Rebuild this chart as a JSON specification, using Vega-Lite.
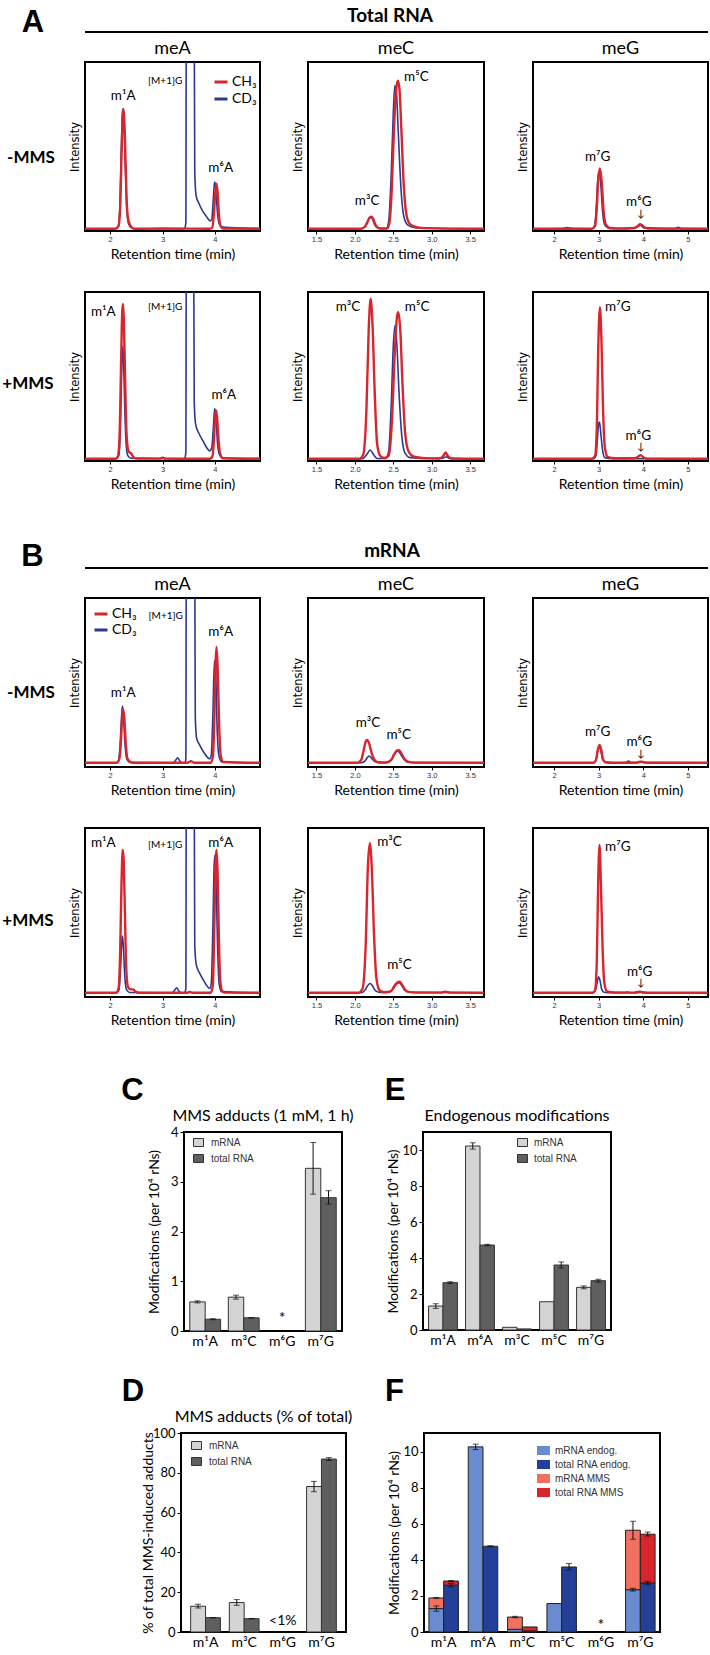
{
"$schema": "https://vega.github.io/schema/vega-lite/v6.json",
"padding": {"left": 0, "top": 0, "right": 0, "bottom": 6},
"background": "white",
"spacing": 0,
"resolve": {"scale": {"color": "independent", "xOffset": "independent"}, "legend": {"color": "independent"}},
"datasets": {
"chrom": [
{"p":"A1meA","s":"CH₃","t":[1.52,2.1,2.16,2.19,2.22,2.24,2.255,2.27,2.295,2.32,2.35,2.4,2.46,3.0,3.9,3.95,3.98,4.005,4.03,4.05,4.075,4.1,4.15,4.86],"i":[0.013,0.013,0.03,0.13,0.48,0.68,0.72,0.66,0.4,0.15,0.06,0.025,0.013,0.015,0.013,0.02,0.1,0.22,0.28,0.23,0.1,0.035,0.015,0.013]},
{"p":"A1meA","s":"CD₃","t":[1.52,2.1,2.16,2.185,2.215,2.235,2.25,2.265,2.29,2.32,2.35,2.4,2.46,3.42,3.445,3.455,3.6,3.615,3.64,3.7,3.76,3.84,3.91,3.94,3.965,3.99,4.0,4.02,4.045,4.08,4.13,4.3,4.86],"i":[0.013,0.013,0.03,0.14,0.5,0.7,0.725,0.66,0.38,0.12,0.045,0.02,0.013,0.013,0.05,1.6,1.6,0.35,0.21,0.16,0.12,0.085,0.06,0.07,0.17,0.28,0.29,0.24,0.12,0.045,0.025,0.02,0.015]},
{"p":"A1meC","s":"CH₃","t":[1.39,2.08,2.13,2.16,2.19,2.21,2.235,2.26,2.29,2.33,2.42,2.45,2.48,2.51,2.54,2.56,2.58,2.605,2.635,2.67,2.71,2.78,2.9,3.68],"i":[0.013,0.013,0.025,0.05,0.078,0.085,0.075,0.045,0.022,0.015,0.015,0.05,0.25,0.62,0.85,0.89,0.84,0.6,0.28,0.1,0.045,0.025,0.017,0.013]},
{"p":"A1meC","s":"CD₃","t":[1.39,2.08,2.13,2.16,2.185,2.205,2.23,2.255,2.29,2.33,2.41,2.44,2.47,2.5,2.52,2.54,2.565,2.6,2.64,2.69,2.78,3.0,3.68],"i":[0.013,0.013,0.025,0.05,0.075,0.08,0.07,0.04,0.02,0.014,0.015,0.06,0.3,0.7,0.86,0.82,0.58,0.25,0.08,0.035,0.02,0.016,0.013]},
{"p":"A1meG","s":"CH₃","t":[1.53,2.85,2.92,2.96,2.99,3.03,3.07,3.11,3.16,3.25,3.5,3.8,3.88,3.93,3.97,4.03,4.15,5.45],"i":[0.013,0.013,0.03,0.14,0.3,0.37,0.29,0.12,0.04,0.018,0.014,0.018,0.03,0.04,0.035,0.02,0.014,0.013]},
{"p":"A1meG","s":"CD₃","t":[1.53,2.2,2.3,2.4,2.85,2.91,2.95,2.98,3.01,3.05,3.09,3.14,3.25,3.8,3.9,3.94,4.0,4.7,4.78,4.86,5.45],"i":[0.013,0.015,0.02,0.014,0.013,0.03,0.15,0.3,0.35,0.27,0.11,0.035,0.015,0.017,0.03,0.035,0.02,0.014,0.022,0.014,0.013]},
{"p":"A2meA","s":"CH₃","t":[1.52,2.1,2.15,2.18,2.21,2.23,2.245,2.26,2.285,2.31,2.34,2.37,2.4,2.44,2.5,2.95,3.0,3.05,3.9,3.95,3.98,4.0,4.02,4.04,4.07,4.1,4.15,4.86],"i":[0.013,0.013,0.03,0.15,0.6,0.88,0.93,0.85,0.5,0.18,0.07,0.05,0.045,0.025,0.015,0.014,0.02,0.014,0.013,0.025,0.12,0.24,0.3,0.26,0.12,0.04,0.016,0.013]},
{"p":"A2meA","s":"CD₃","t":[1.52,2.12,2.17,2.2,2.225,2.24,2.255,2.28,2.31,2.34,2.4,3.42,3.445,3.455,3.59,3.605,3.63,3.7,3.77,3.84,3.9,3.94,3.97,3.995,4.02,4.05,4.09,4.15,4.86],"i":[0.013,0.013,0.04,0.25,0.6,0.68,0.6,0.3,0.08,0.03,0.016,0.013,0.05,1.6,1.6,0.35,0.22,0.16,0.12,0.08,0.06,0.08,0.2,0.31,0.26,0.1,0.035,0.018,0.014]},
{"p":"A2meC","s":"CH₃","t":[1.39,2.06,2.11,2.15,2.18,2.205,2.23,2.26,2.29,2.33,2.38,2.44,2.48,2.52,2.55,2.565,2.59,2.62,2.655,2.7,2.77,2.9,3.1,3.15,3.18,3.21,3.26,3.68],"i":[0.013,0.013,0.04,0.3,0.78,0.96,0.8,0.38,0.1,0.03,0.018,0.03,0.22,0.65,0.86,0.88,0.78,0.45,0.16,0.055,0.025,0.017,0.015,0.03,0.05,0.03,0.015,0.013]},
{"p":"A2meC","s":"CD₃","t":[1.39,2.1,2.15,2.2,2.24,2.29,2.4,2.44,2.47,2.5,2.52,2.545,2.575,2.61,2.65,2.72,3.0,3.15,3.19,3.23,3.68],"i":[0.013,0.013,0.035,0.065,0.04,0.015,0.015,0.06,0.3,0.68,0.8,0.7,0.4,0.15,0.05,0.02,0.015,0.017,0.025,0.015,0.013]},
{"p":"A2meG","s":"CH₃","t":[1.53,2.85,2.92,2.96,2.99,3.03,3.065,3.1,3.14,3.2,3.35,3.8,3.88,3.94,4.0,4.1,5.45],"i":[0.013,0.013,0.03,0.2,0.65,0.91,0.7,0.3,0.08,0.025,0.016,0.016,0.025,0.035,0.022,0.014,0.013]},
{"p":"A2meG","s":"CD₃","t":[1.53,2.88,2.94,2.97,3.0,3.02,3.05,3.09,3.14,3.3,5.45],"i":[0.013,0.013,0.03,0.12,0.22,0.23,0.16,0.06,0.02,0.014,0.013]},
{"p":"B1meA","s":"CH₃","t":[1.52,2.12,2.17,2.2,2.23,2.25,2.27,2.3,2.33,2.38,2.45,3.48,3.54,3.6,3.92,3.96,3.99,4.01,4.03,4.05,4.08,4.11,4.16,4.86],"i":[0.025,0.025,0.04,0.12,0.29,0.34,0.29,0.13,0.05,0.03,0.025,0.025,0.035,0.025,0.025,0.06,0.3,0.6,0.71,0.6,0.25,0.07,0.03,0.025]},
{"p":"B1meA","s":"CD₃","t":[1.52,2.12,2.16,2.19,2.22,2.235,2.255,2.285,2.32,2.38,3.2,3.25,3.29,3.33,3.38,3.43,3.445,3.455,3.61,3.625,3.65,3.71,3.78,3.85,3.9,3.93,3.96,3.99,4.015,4.045,4.08,4.13,4.86],"i":[0.025,0.025,0.04,0.13,0.31,0.36,0.3,0.13,0.045,0.027,0.025,0.04,0.055,0.035,0.025,0.025,0.05,1.6,1.6,0.3,0.17,0.13,0.09,0.06,0.048,0.07,0.3,0.63,0.55,0.2,0.06,0.03,0.025]},
{"p":"B1meC","s":"CH₃","t":[1.39,2.03,2.08,2.11,2.14,2.16,2.185,2.22,2.26,2.31,2.4,2.47,2.51,2.55,2.57,2.6,2.64,2.69,2.78,3.68],"i":[0.025,0.025,0.04,0.09,0.15,0.16,0.14,0.08,0.04,0.028,0.027,0.04,0.075,0.098,0.1,0.085,0.05,0.032,0.026,0.025]},
{"p":"B1meC","s":"CD₃","t":[1.39,2.08,2.13,2.17,2.19,2.22,2.26,2.32,2.43,2.48,2.52,2.555,2.59,2.63,2.68,2.78,3.68],"i":[0.025,0.025,0.035,0.06,0.065,0.05,0.032,0.026,0.027,0.045,0.08,0.095,0.08,0.05,0.03,0.026,0.025]},
{"p":"B1meG","s":"CH₃","t":[1.53,2.88,2.94,2.98,3.02,3.06,3.1,3.16,3.3,3.85,3.93,3.99,4.1,5.45],"i":[0.025,0.025,0.04,0.1,0.13,0.1,0.045,0.028,0.025,0.025,0.032,0.03,0.025,0.025]},
{"p":"B1meG","s":"CD₃","t":[1.53,2.88,2.94,2.98,3.01,3.05,3.09,3.15,3.3,3.6,3.67,3.73,3.9,3.95,4.02,5.45],"i":[0.025,0.025,0.04,0.095,0.12,0.095,0.045,0.028,0.025,0.026,0.035,0.026,0.027,0.03,0.026,0.025]},
{"p":"B2meA","s":"CH₃","t":[1.52,2.11,2.16,2.19,2.215,2.235,2.245,2.26,2.285,2.31,2.34,2.39,2.44,2.49,2.55,3.46,3.52,3.58,3.92,3.96,3.99,4.01,4.03,4.05,4.075,4.1,4.14,4.2,4.86],"i":[0.025,0.025,0.05,0.25,0.65,0.85,0.87,0.8,0.45,0.15,0.06,0.045,0.045,0.03,0.025,0.025,0.03,0.025,0.025,0.07,0.45,0.78,0.87,0.75,0.35,0.1,0.035,0.026,0.025]},
{"p":"B2meA","s":"CD₃","t":[1.52,2.12,2.17,2.2,2.225,2.235,2.25,2.28,2.31,2.37,3.18,3.23,3.27,3.31,3.36,3.42,3.445,3.455,3.6,3.615,3.645,3.71,3.78,3.85,3.9,3.93,3.96,3.985,4.0,4.02,4.05,4.08,4.12,4.86],"i":[0.025,0.025,0.045,0.18,0.34,0.36,0.31,0.12,0.045,0.027,0.025,0.04,0.055,0.035,0.025,0.025,0.05,1.6,1.6,0.3,0.19,0.14,0.1,0.065,0.05,0.08,0.4,0.78,0.84,0.72,0.3,0.08,0.032,0.025]},
{"p":"B2meC","s":"CH₃","t":[1.39,2.05,2.1,2.14,2.17,2.195,2.22,2.25,2.28,2.32,2.38,2.47,2.52,2.56,2.58,2.61,2.65,2.7,2.8,3.12,3.18,3.24,3.68],"i":[0.025,0.025,0.05,0.3,0.78,0.91,0.76,0.36,0.11,0.04,0.028,0.035,0.07,0.088,0.09,0.075,0.045,0.03,0.026,0.026,0.032,0.026,0.025]},
{"p":"B2meC","s":"CD₃","t":[1.39,2.08,2.13,2.17,2.2,2.23,2.27,2.33,2.45,2.5,2.545,2.575,2.61,2.65,2.72,3.68],"i":[0.025,0.025,0.04,0.07,0.08,0.065,0.036,0.027,0.028,0.05,0.078,0.085,0.068,0.04,0.028,0.025]},
{"p":"B2meG","s":"CH₃","t":[1.53,2.86,2.92,2.96,2.99,3.02,3.05,3.09,3.13,3.19,3.35,3.8,3.87,3.92,3.98,4.1,5.45],"i":[0.025,0.025,0.04,0.22,0.68,0.9,0.68,0.28,0.08,0.033,0.027,0.026,0.03,0.032,0.028,0.025,0.025]},
{"p":"B2meG","s":"CD₃","t":[1.53,2.88,2.93,2.97,3.0,3.03,3.07,3.12,3.3,3.58,3.64,3.7,3.88,3.93,4.0,5.45],"i":[0.025,0.025,0.04,0.09,0.12,0.1,0.045,0.028,0.025,0.025,0.03,0.025,0.026,0.028,0.025,0.025]}
],
"ann": [
{"p":"A1meA","k":"pk","l":"m¹A","t":2.25,"i":0.8},
{"p":"A1meA","k":"sm","l":"[M+1]G","t":3.05,"i":0.89},
{"p":"A1meA","k":"pk","l":"m⁶A","t":4.11,"i":0.37},
{"p":"A1meC","k":"pk","l":"m³C","t":2.16,"i":0.18},
{"p":"A1meC","k":"pk","l":"m⁵C","t":2.8,"i":0.91},
{"p":"A1meG","k":"pk","l":"m⁷G","t":2.98,"i":0.44},
{"p":"A1meG","k":"pk","l":"m⁶G","t":3.9,"i":0.17},
{"p":"A1meG","k":"sm","l":"↓","t":3.95,"i":0.1},
{"p":"A2meA","k":"pk","l":"m¹A","t":1.87,"i":0.88},
{"p":"A2meA","k":"sm","l":"[M+1]G","t":3.05,"i":0.91},
{"p":"A2meA","k":"pk","l":"m⁶A","t":4.17,"i":0.39},
{"p":"A2meC","k":"pk","l":"m³C","t":1.91,"i":0.91},
{"p":"A2meC","k":"pk","l":"m⁵C","t":2.81,"i":0.91},
{"p":"A2meG","k":"pk","l":"m⁷G","t":3.43,"i":0.91},
{"p":"A2meG","k":"pk","l":"m⁶G","t":3.89,"i":0.15},
{"p":"A2meG","k":"sm","l":"↓","t":3.95,"i":0.085},
{"p":"B1meA","k":"pk","l":"m¹A","t":2.25,"i":0.44},
{"p":"B1meA","k":"sm","l":"[M+1]G","t":3.06,"i":0.895},
{"p":"B1meA","k":"pk","l":"m⁶A","t":4.11,"i":0.8},
{"p":"B1meC","k":"pk","l":"m³C","t":2.17,"i":0.26},
{"p":"B1meC","k":"pk","l":"m⁵C","t":2.57,"i":0.19},
{"p":"B1meG","k":"pk","l":"m⁷G","t":2.98,"i":0.21},
{"p":"B1meG","k":"pk","l":"m⁶G","t":3.91,"i":0.15},
{"p":"B1meG","k":"sm","l":"↓","t":3.95,"i":0.075},
{"p":"B2meA","k":"pk","l":"m¹A","t":1.87,"i":0.91},
{"p":"B2meA","k":"sm","l":"[M+1]G","t":3.05,"i":0.9},
{"p":"B2meA","k":"pk","l":"m⁶A","t":4.11,"i":0.91},
{"p":"B2meC","k":"pk","l":"m³C","t":2.45,"i":0.92},
{"p":"B2meC","k":"pk","l":"m⁵C","t":2.58,"i":0.19},
{"p":"B2meG","k":"pk","l":"m⁷G","t":3.43,"i":0.89},
{"p":"B2meG","k":"pk","l":"m⁶G","t":3.92,"i":0.15},
{"p":"B2meG","k":"sm","l":"↓","t":3.95,"i":0.085}
],
"C": [
{"c":"m¹A","g":"mRNA","v":0.585,"lo":0.565,"hi":0.605},
{"c":"m¹A","g":"total RNA","v":0.236,"lo":0.226,"hi":0.246},
{"c":"m³C","g":"mRNA","v":0.68,"lo":0.64,"hi":0.72},
{"c":"m³C","g":"total RNA","v":0.265,"lo":0.26,"hi":0.27},
{"c":"m⁷G","g":"mRNA","v":3.27,"lo":2.75,"hi":3.79},
{"c":"m⁷G","g":"total RNA","v":2.68,"lo":2.55,"hi":2.82}
],
"D": [
{"c":"m¹A","g":"mRNA","v":12.95,"lo":12.0,"hi":13.9},
{"c":"m¹A","g":"total RNA","v":7.2,"lo":7.1,"hi":7.3},
{"c":"m³C","g":"mRNA","v":14.8,"lo":13.4,"hi":16.3},
{"c":"m³C","g":"total RNA","v":6.7,"lo":6.6,"hi":6.8},
{"c":"m⁷G","g":"mRNA","v":73.1,"lo":70.5,"hi":75.7},
{"c":"m⁷G","g":"total RNA","v":86.9,"lo":86.2,"hi":87.6}
],
"E": [
{"c":"m¹A","g":"mRNA","v":1.33,"lo":1.2,"hi":1.46},
{"c":"m¹A","g":"total RNA","v":2.63,"lo":2.58,"hi":2.68},
{"c":"m⁶A","g":"mRNA","v":10.22,"lo":10.05,"hi":10.4},
{"c":"m⁶A","g":"total RNA","v":4.72,"lo":4.68,"hi":4.76},
{"c":"m³C","g":"mRNA","v":0.15,"lo":null,"hi":null},
{"c":"m³C","g":"total RNA","v":0.06,"lo":null,"hi":null},
{"c":"m⁵C","g":"mRNA","v":1.57,"lo":null,"hi":null},
{"c":"m⁵C","g":"total RNA","v":3.61,"lo":3.45,"hi":3.78},
{"c":"m⁷G","g":"mRNA","v":2.37,"lo":2.29,"hi":2.45},
{"c":"m⁷G","g":"total RNA","v":2.74,"lo":2.66,"hi":2.82}
],
"F": [
{"c":"m¹A","g":"mRNA","part":"endog","comp":"mRNA endog.","v":1.3},
{"c":"m¹A","g":"mRNA","part":"MMS","comp":"mRNA MMS","v":0.59},
{"c":"m¹A","g":"total RNA","part":"endog","comp":"total RNA endog.","v":2.6},
{"c":"m¹A","g":"total RNA","part":"MMS","comp":"total RNA MMS","v":0.23},
{"c":"m⁶A","g":"mRNA","part":"endog","comp":"mRNA endog.","v":10.28},
{"c":"m⁶A","g":"total RNA","part":"endog","comp":"total RNA endog.","v":4.76},
{"c":"m³C","g":"mRNA","part":"endog","comp":"mRNA endog.","v":0.15},
{"c":"m³C","g":"mRNA","part":"MMS","comp":"mRNA MMS","v":0.68},
{"c":"m³C","g":"total RNA","part":"endog","comp":"total RNA endog.","v":0.06},
{"c":"m³C","g":"total RNA","part":"MMS","comp":"total RNA MMS","v":0.22},
{"c":"m⁵C","g":"mRNA","part":"endog","comp":"mRNA endog.","v":1.58},
{"c":"m⁵C","g":"total RNA","part":"endog","comp":"total RNA endog.","v":3.61},
{"c":"m⁷G","g":"mRNA","part":"endog","comp":"mRNA endog.","v":2.35},
{"c":"m⁷G","g":"mRNA","part":"MMS","comp":"mRNA MMS","v":3.3},
{"c":"m⁷G","g":"total RNA","part":"endog","comp":"total RNA endog.","v":2.72},
{"c":"m⁷G","g":"total RNA","part":"MMS","comp":"total RNA MMS","v":2.71}
],
"Ferr": [
{"c":"m¹A","g":"mRNA","lo":1.15,"hi":1.45},
{"c":"m¹A","g":"mRNA","lo":1.87,"hi":1.92},
{"c":"m¹A","g":"total RNA","lo":2.5,"hi":2.7},
{"c":"m¹A","g":"total RNA","lo":2.8,"hi":2.86},
{"c":"m⁶A","g":"mRNA","lo":10.13,"hi":10.43},
{"c":"m⁶A","g":"total RNA","lo":4.73,"hi":4.79},
{"c":"m³C","g":"mRNA","lo":0.79,"hi":0.87},
{"c":"m⁵C","g":"total RNA","lo":3.45,"hi":3.8},
{"c":"m⁷G","g":"mRNA","lo":2.27,"hi":2.43},
{"c":"m⁷G","g":"mRNA","lo":5.15,"hi":6.15},
{"c":"m⁷G","g":"total RNA","lo":2.65,"hi":2.8},
{"c":"m⁷G","g":"total RNA","lo":5.33,"hi":5.55}
]
},
"vconcat": [
{"spacing":0,"bounds":"flush","resolve":{"scale":{"color":"independent"},"legend":{"color":"independent"}},"hconcat":[
 {"width":85,"height":61,"view":{"stroke":null},"data":{"values":[{"l":"A"}]},"mark":{"type":"text","font":"Liberation Sans","fontSize":31,"fontWeight":"bold","dx":-9.5,"dy":-7.2},"encoding":{"text":{"field":"l"}}},
 {"width":175,"height":61,"view":{"stroke":null},"layer":[
  {"data":{"values":[{}]},"mark":{"type":"rule","color":"#000","strokeWidth":2},"encoding":{"y":{"datum":29,"type":"quantitative","scale":{"domain":[0,61],"nice":false},"axis":null}}},
  {"data":{"values":[{"l":"meA"}]},"mark":{"type":"text","fontSize":18,"dy":18.5},"encoding":{"text":{"field":"l"}}}]},
 {"width":48,"height":61,"view":{"stroke":null},"data":{"values":[{}]},"mark":{"type":"rule","color":"#000","strokeWidth":2},"encoding":{"y":{"datum":29,"type":"quantitative","scale":{"domain":[0,61],"nice":false},"axis":null}}},
 {"width":176,"height":61,"view":{"stroke":null},"layer":[
  {"data":{"values":[{}]},"mark":{"type":"rule","color":"#000","strokeWidth":2},"encoding":{"y":{"datum":29,"type":"quantitative","scale":{"domain":[0,61],"nice":false},"axis":null}}},
  {"data":{"values":[{"l":"meC"}]},"mark":{"type":"text","fontSize":18,"dy":18.5},"encoding":{"text":{"field":"l"}}},
  {"data":{"values":[{"l":"Total RNA"}]},"mark":{"type":"text","fontSize":19,"fontWeight":"bold","dx":-6,"dy":-14.5},"encoding":{"text":{"field":"l"}}}]},
 {"width":49,"height":61,"view":{"stroke":null},"data":{"values":[{}]},"mark":{"type":"rule","color":"#000","strokeWidth":2},"encoding":{"y":{"datum":29,"type":"quantitative","scale":{"domain":[0,61],"nice":false},"axis":null}}},
 {"width":175,"height":61,"view":{"stroke":null},"layer":[
  {"data":{"values":[{}]},"mark":{"type":"rule","color":"#000","strokeWidth":2},"encoding":{"y":{"datum":29,"type":"quantitative","scale":{"domain":[0,61],"nice":false},"axis":null}}},
  {"data":{"values":[{"l":"meG"}]},"mark":{"type":"text","fontSize":18,"dy":18.5},"encoding":{"text":{"field":"l"}}}]}
]},
{"spacing":0,"bounds":"flush","resolve":{"scale":{"color":"independent"},"legend":{"color":"independent"}},"hconcat":[
 {"width":85,"height":229,"view":{"stroke":null},"data":{"values":[{"l":"-MMS"}]},"mark":{"type":"text","fontSize":17,"fontWeight":"bold","dx":-11.5,"dy":-18.5},"encoding":{"text":{"field":"l"}}},
 {"width":175,"height":169,
  "encoding":{"x":{"field":"t","type":"quantitative","scale":{"domain":[1.52,4.86],"nice":false,"zero":false},"axis":{"values":[2,3,4],"title":"Retention time (min)"}},"y":{"field":"i","type":"quantitative","scale":{"domain":[0,1],"nice":false,"zero":false},"axis":{"title":"Intensity","labels":false,"ticks":false,"titleFont":"DejaVu Sans","titleFontSize":11.5,"titlePadding":5}}},
  "layer":[
  {"data":{"name":"chrom"},"transform":[{"flatten":["t","i"]},{"filter":"datum.p=='A1meA'&&datum.s=='CD₃'"}],"mark":{"type":"line","clip":true,"interpolate":"monotone","strokeWidth":1.6},"encoding":{"color":{"field":"s","type":"nominal","scale":{"domain":["CH₃","CD₃"],"range":["#d9262c","#2b3990"]},"legend":{"orient":"none","legendX":128,"legendY":12,"title":null,"symbolType":"stroke","symbolStrokeWidth":3,"symbolSize":169,"labelFontSize":14,"labelOffset":3,"rowPadding":2}}}},
  {"data":{"name":"chrom"},"transform":[{"flatten":["t","i"]},{"filter":"datum.p=='A1meA'&&datum.s=='CH₃'"}],"mark":{"type":"line","clip":true,"interpolate":"monotone","strokeWidth":2.4},"encoding":{"color":{"field":"s","type":"nominal","scale":{"domain":["CH₃","CD₃"],"range":["#d9262c","#2b3990"]},"legend":{"orient":"none","legendX":128,"legendY":12,"title":null,"symbolType":"stroke","symbolStrokeWidth":3,"symbolSize":169,"labelFontSize":14,"labelOffset":3,"rowPadding":2}}}},
  {"data":{"name":"ann"},"transform":[{"filter":"datum.p=='A1meA'&&datum.k=='pk'"}],"mark":{"type":"text","fontSize":13.5},"encoding":{"text":{"field":"l"}}},
  {"data":{"name":"ann"},"transform":[{"filter":"datum.p=='A1meA'&&datum.k=='sm'"}],"mark":{"type":"text","fontSize":10},"encoding":{"text":{"field":"l"}}}]},
 {"width":48,"height":1,"view":{"stroke":null},"data":{"values":[]},"mark":"point"},
 {"width":176,"height":169,
  "encoding":{"x":{"field":"t","type":"quantitative","scale":{"domain":[1.39,3.68],"nice":false,"zero":false},"axis":{"values":[1.5,2,2.5,3,3.5],"tickCount":6,"format":".1f","title":"Retention time (min)"}},"y":{"field":"i","type":"quantitative","scale":{"domain":[0,1],"nice":false,"zero":false},"axis":{"title":"Intensity","labels":false,"ticks":false,"titleFont":"DejaVu Sans","titleFontSize":11.5,"titlePadding":5}}},
  "layer":[
  {"data":{"name":"chrom"},"transform":[{"flatten":["t","i"]},{"filter":"datum.p=='A1meC'&&datum.s=='CD₃'"}],"mark":{"type":"line","clip":true,"interpolate":"monotone","strokeWidth":1.6},"encoding":{"color":{"field":"s","type":"nominal","scale":{"domain":["CH₃","CD₃"],"range":["#d9262c","#2b3990"]},"legend":null}}},
  {"data":{"name":"chrom"},"transform":[{"flatten":["t","i"]},{"filter":"datum.p=='A1meC'&&datum.s=='CH₃'"}],"mark":{"type":"line","clip":true,"interpolate":"monotone","strokeWidth":2.4},"encoding":{"color":{"field":"s","type":"nominal","scale":{"domain":["CH₃","CD₃"],"range":["#d9262c","#2b3990"]},"legend":null}}},
  {"data":{"name":"ann"},"transform":[{"filter":"datum.p=='A1meC'&&datum.k=='pk'"}],"mark":{"type":"text","fontSize":13.5},"encoding":{"text":{"field":"l"}}},
  {"data":{"name":"ann"},"transform":[{"filter":"datum.p=='A1meC'&&datum.k=='sm'"}],"mark":{"type":"text","fontSize":10},"encoding":{"text":{"field":"l"}}}]},
 {"width":49,"height":1,"view":{"stroke":null},"data":{"values":[]},"mark":"point"},
 {"width":175,"height":169,
  "encoding":{"x":{"field":"t","type":"quantitative","scale":{"domain":[1.53,5.45],"nice":false,"zero":false},"axis":{"values":[2,3,4,5],"title":"Retention time (min)"}},"y":{"field":"i","type":"quantitative","scale":{"domain":[0,1],"nice":false,"zero":false},"axis":{"title":"Intensity","labels":false,"ticks":false,"titleFont":"DejaVu Sans","titleFontSize":11.5,"titlePadding":5}}},
  "layer":[
  {"data":{"name":"chrom"},"transform":[{"flatten":["t","i"]},{"filter":"datum.p=='A1meG'&&datum.s=='CD₃'"}],"mark":{"type":"line","clip":true,"interpolate":"monotone","strokeWidth":1.6},"encoding":{"color":{"field":"s","type":"nominal","scale":{"domain":["CH₃","CD₃"],"range":["#d9262c","#2b3990"]},"legend":null}}},
  {"data":{"name":"chrom"},"transform":[{"flatten":["t","i"]},{"filter":"datum.p=='A1meG'&&datum.s=='CH₃'"}],"mark":{"type":"line","clip":true,"interpolate":"monotone","strokeWidth":2.4},"encoding":{"color":{"field":"s","type":"nominal","scale":{"domain":["CH₃","CD₃"],"range":["#d9262c","#2b3990"]},"legend":null}}},
  {"data":{"name":"ann"},"transform":[{"filter":"datum.p=='A1meG'&&datum.k=='pk'"}],"mark":{"type":"text","fontSize":13.5},"encoding":{"text":{"field":"l"}}},
  {"data":{"name":"ann"},"transform":[{"filter":"datum.p=='A1meG'&&datum.k=='sm'"}],"mark":{"type":"text","fontSize":10},"encoding":{"text":{"field":"l"}}}]}
]},
{"spacing":0,"bounds":"flush","resolve":{"scale":{"color":"independent"},"legend":{"color":"independent"}},"hconcat":[
 {"width":85,"height":244,"view":{"stroke":null},"data":{"values":[{"l":"+MMS"}]},"mark":{"type":"text","fontSize":17,"fontWeight":"bold","dx":-14.5,"dy":-30},"encoding":{"text":{"field":"l"}}},
 {"width":175,"height":169,
  "encoding":{"x":{"field":"t","type":"quantitative","scale":{"domain":[1.52,4.86],"nice":false,"zero":false},"axis":{"values":[2,3,4],"title":"Retention time (min)"}},"y":{"field":"i","type":"quantitative","scale":{"domain":[0,1],"nice":false,"zero":false},"axis":{"title":"Intensity","labels":false,"ticks":false,"titleFont":"DejaVu Sans","titleFontSize":11.5,"titlePadding":5}}},
  "layer":[
  {"data":{"name":"chrom"},"transform":[{"flatten":["t","i"]},{"filter":"datum.p=='A2meA'&&datum.s=='CD₃'"}],"mark":{"type":"line","clip":true,"interpolate":"monotone","strokeWidth":1.6},"encoding":{"color":{"field":"s","type":"nominal","scale":{"domain":["CH₃","CD₃"],"range":["#d9262c","#2b3990"]},"legend":null}}},
  {"data":{"name":"chrom"},"transform":[{"flatten":["t","i"]},{"filter":"datum.p=='A2meA'&&datum.s=='CH₃'"}],"mark":{"type":"line","clip":true,"interpolate":"monotone","strokeWidth":2.4},"encoding":{"color":{"field":"s","type":"nominal","scale":{"domain":["CH₃","CD₃"],"range":["#d9262c","#2b3990"]},"legend":null}}},
  {"data":{"name":"ann"},"transform":[{"filter":"datum.p=='A2meA'&&datum.k=='pk'"}],"mark":{"type":"text","fontSize":13.5},"encoding":{"text":{"field":"l"}}},
  {"data":{"name":"ann"},"transform":[{"filter":"datum.p=='A2meA'&&datum.k=='sm'"}],"mark":{"type":"text","fontSize":10},"encoding":{"text":{"field":"l"}}}]},
 {"width":48,"height":1,"view":{"stroke":null},"data":{"values":[]},"mark":"point"},
 {"width":176,"height":169,
  "encoding":{"x":{"field":"t","type":"quantitative","scale":{"domain":[1.39,3.68],"nice":false,"zero":false},"axis":{"values":[1.5,2,2.5,3,3.5],"tickCount":6,"format":".1f","title":"Retention time (min)"}},"y":{"field":"i","type":"quantitative","scale":{"domain":[0,1],"nice":false,"zero":false},"axis":{"title":"Intensity","labels":false,"ticks":false,"titleFont":"DejaVu Sans","titleFontSize":11.5,"titlePadding":5}}},
  "layer":[
  {"data":{"name":"chrom"},"transform":[{"flatten":["t","i"]},{"filter":"datum.p=='A2meC'&&datum.s=='CD₃'"}],"mark":{"type":"line","clip":true,"interpolate":"monotone","strokeWidth":1.6},"encoding":{"color":{"field":"s","type":"nominal","scale":{"domain":["CH₃","CD₃"],"range":["#d9262c","#2b3990"]},"legend":null}}},
  {"data":{"name":"chrom"},"transform":[{"flatten":["t","i"]},{"filter":"datum.p=='A2meC'&&datum.s=='CH₃'"}],"mark":{"type":"line","clip":true,"interpolate":"monotone","strokeWidth":2.4},"encoding":{"color":{"field":"s","type":"nominal","scale":{"domain":["CH₃","CD₃"],"range":["#d9262c","#2b3990"]},"legend":null}}},
  {"data":{"name":"ann"},"transform":[{"filter":"datum.p=='A2meC'&&datum.k=='pk'"}],"mark":{"type":"text","fontSize":13.5},"encoding":{"text":{"field":"l"}}},
  {"data":{"name":"ann"},"transform":[{"filter":"datum.p=='A2meC'&&datum.k=='sm'"}],"mark":{"type":"text","fontSize":10},"encoding":{"text":{"field":"l"}}}]},
 {"width":49,"height":1,"view":{"stroke":null},"data":{"values":[]},"mark":"point"},
 {"width":175,"height":169,
  "encoding":{"x":{"field":"t","type":"quantitative","scale":{"domain":[1.53,5.45],"nice":false,"zero":false},"axis":{"values":[2,3,4,5],"title":"Retention time (min)"}},"y":{"field":"i","type":"quantitative","scale":{"domain":[0,1],"nice":false,"zero":false},"axis":{"title":"Intensity","labels":false,"ticks":false,"titleFont":"DejaVu Sans","titleFontSize":11.5,"titlePadding":5}}},
  "layer":[
  {"data":{"name":"chrom"},"transform":[{"flatten":["t","i"]},{"filter":"datum.p=='A2meG'&&datum.s=='CD₃'"}],"mark":{"type":"line","clip":true,"interpolate":"monotone","strokeWidth":1.6},"encoding":{"color":{"field":"s","type":"nominal","scale":{"domain":["CH₃","CD₃"],"range":["#d9262c","#2b3990"]},"legend":null}}},
  {"data":{"name":"chrom"},"transform":[{"flatten":["t","i"]},{"filter":"datum.p=='A2meG'&&datum.s=='CH₃'"}],"mark":{"type":"line","clip":true,"interpolate":"monotone","strokeWidth":2.4},"encoding":{"color":{"field":"s","type":"nominal","scale":{"domain":["CH₃","CD₃"],"range":["#d9262c","#2b3990"]},"legend":null}}},
  {"data":{"name":"ann"},"transform":[{"filter":"datum.p=='A2meG'&&datum.k=='pk'"}],"mark":{"type":"text","fontSize":13.5},"encoding":{"text":{"field":"l"}}},
  {"data":{"name":"ann"},"transform":[{"filter":"datum.p=='A2meG'&&datum.k=='sm'"}],"mark":{"type":"text","fontSize":10},"encoding":{"text":{"field":"l"}}}]}
]},
{"spacing":0,"bounds":"flush","resolve":{"scale":{"color":"independent"},"legend":{"color":"independent"}},"hconcat":[
 {"width":85,"height":61,"view":{"stroke":null},"data":{"values":[{"l":"B"}]},"mark":{"type":"text","font":"Liberation Sans","fontSize":31,"fontWeight":"bold","dx":-10,"dy":-9.7},"encoding":{"text":{"field":"l"}}},
 {"width":175,"height":61,"view":{"stroke":null},"layer":[
  {"data":{"values":[{}]},"mark":{"type":"rule","color":"#000","strokeWidth":2},"encoding":{"y":{"datum":29,"type":"quantitative","scale":{"domain":[0,61],"nice":false},"axis":null}}},
  {"data":{"values":[{"l":"meA"}]},"mark":{"type":"text","fontSize":18,"dy":18.5},"encoding":{"text":{"field":"l"}}}]},
 {"width":48,"height":61,"view":{"stroke":null},"data":{"values":[{}]},"mark":{"type":"rule","color":"#000","strokeWidth":2},"encoding":{"y":{"datum":29,"type":"quantitative","scale":{"domain":[0,61],"nice":false},"axis":null}}},
 {"width":176,"height":61,"view":{"stroke":null},"layer":[
  {"data":{"values":[{}]},"mark":{"type":"rule","color":"#000","strokeWidth":2},"encoding":{"y":{"datum":29,"type":"quantitative","scale":{"domain":[0,61],"nice":false},"axis":null}}},
  {"data":{"values":[{"l":"meC"}]},"mark":{"type":"text","fontSize":18,"dy":18.5},"encoding":{"text":{"field":"l"}}},
  {"data":{"values":[{"l":"mRNA"}]},"mark":{"type":"text","fontSize":19,"fontWeight":"bold","dx":-4,"dy":-15.5},"encoding":{"text":{"field":"l"}}}]},
 {"width":49,"height":61,"view":{"stroke":null},"data":{"values":[{}]},"mark":{"type":"rule","color":"#000","strokeWidth":2},"encoding":{"y":{"datum":29,"type":"quantitative","scale":{"domain":[0,61],"nice":false},"axis":null}}},
 {"width":175,"height":61,"view":{"stroke":null},"layer":[
  {"data":{"values":[{}]},"mark":{"type":"rule","color":"#000","strokeWidth":2},"encoding":{"y":{"datum":29,"type":"quantitative","scale":{"domain":[0,61],"nice":false},"axis":null}}},
  {"data":{"values":[{"l":"meG"}]},"mark":{"type":"text","fontSize":18,"dy":18.5},"encoding":{"text":{"field":"l"}}}]}
]},
{"spacing":0,"bounds":"flush","resolve":{"scale":{"color":"independent"},"legend":{"color":"independent"}},"hconcat":[
 {"width":85,"height":229,"view":{"stroke":null},"data":{"values":[{"l":"-MMS"}]},"mark":{"type":"text","fontSize":17,"fontWeight":"bold","dx":-11.5,"dy":-19.8},"encoding":{"text":{"field":"l"}}},
 {"width":175,"height":169,
  "encoding":{"x":{"field":"t","type":"quantitative","scale":{"domain":[1.52,4.86],"nice":false,"zero":false},"axis":{"values":[2,3,4],"title":"Retention time (min)"}},"y":{"field":"i","type":"quantitative","scale":{"domain":[0,1],"nice":false,"zero":false},"axis":{"title":"Intensity","labels":false,"ticks":false,"titleFont":"DejaVu Sans","titleFontSize":11.5,"titlePadding":5}}},
  "layer":[
  {"data":{"name":"chrom"},"transform":[{"flatten":["t","i"]},{"filter":"datum.p=='B1meA'&&datum.s=='CD₃'"}],"mark":{"type":"line","clip":true,"interpolate":"monotone","strokeWidth":1.6},"encoding":{"color":{"field":"s","type":"nominal","scale":{"domain":["CH₃","CD₃"],"range":["#d9262c","#2b3990"]},"legend":{"orient":"none","legendX":8,"legendY":8,"title":null,"symbolType":"stroke","symbolStrokeWidth":3,"symbolSize":169,"labelFontSize":14,"labelOffset":3,"rowPadding":1}}}},
  {"data":{"name":"chrom"},"transform":[{"flatten":["t","i"]},{"filter":"datum.p=='B1meA'&&datum.s=='CH₃'"}],"mark":{"type":"line","clip":true,"interpolate":"monotone","strokeWidth":2.4},"encoding":{"color":{"field":"s","type":"nominal","scale":{"domain":["CH₃","CD₃"],"range":["#d9262c","#2b3990"]},"legend":{"orient":"none","legendX":8,"legendY":8,"title":null,"symbolType":"stroke","symbolStrokeWidth":3,"symbolSize":169,"labelFontSize":14,"labelOffset":3,"rowPadding":1}}}},
  {"data":{"name":"ann"},"transform":[{"filter":"datum.p=='B1meA'&&datum.k=='pk'"}],"mark":{"type":"text","fontSize":13.5},"encoding":{"text":{"field":"l"}}},
  {"data":{"name":"ann"},"transform":[{"filter":"datum.p=='B1meA'&&datum.k=='sm'"}],"mark":{"type":"text","fontSize":10},"encoding":{"text":{"field":"l"}}}]},
 {"width":48,"height":1,"view":{"stroke":null},"data":{"values":[]},"mark":"point"},
 {"width":176,"height":169,
  "encoding":{"x":{"field":"t","type":"quantitative","scale":{"domain":[1.39,3.68],"nice":false,"zero":false},"axis":{"values":[1.5,2,2.5,3,3.5],"tickCount":6,"format":".1f","title":"Retention time (min)"}},"y":{"field":"i","type":"quantitative","scale":{"domain":[0,1],"nice":false,"zero":false},"axis":{"title":"Intensity","labels":false,"ticks":false,"titleFont":"DejaVu Sans","titleFontSize":11.5,"titlePadding":5}}},
  "layer":[
  {"data":{"name":"chrom"},"transform":[{"flatten":["t","i"]},{"filter":"datum.p=='B1meC'&&datum.s=='CD₃'"}],"mark":{"type":"line","clip":true,"interpolate":"monotone","strokeWidth":1.6},"encoding":{"color":{"field":"s","type":"nominal","scale":{"domain":["CH₃","CD₃"],"range":["#d9262c","#2b3990"]},"legend":null}}},
  {"data":{"name":"chrom"},"transform":[{"flatten":["t","i"]},{"filter":"datum.p=='B1meC'&&datum.s=='CH₃'"}],"mark":{"type":"line","clip":true,"interpolate":"monotone","strokeWidth":2.4},"encoding":{"color":{"field":"s","type":"nominal","scale":{"domain":["CH₃","CD₃"],"range":["#d9262c","#2b3990"]},"legend":null}}},
  {"data":{"name":"ann"},"transform":[{"filter":"datum.p=='B1meC'&&datum.k=='pk'"}],"mark":{"type":"text","fontSize":13.5},"encoding":{"text":{"field":"l"}}},
  {"data":{"name":"ann"},"transform":[{"filter":"datum.p=='B1meC'&&datum.k=='sm'"}],"mark":{"type":"text","fontSize":10},"encoding":{"text":{"field":"l"}}}]},
 {"width":49,"height":1,"view":{"stroke":null},"data":{"values":[]},"mark":"point"},
 {"width":175,"height":169,
  "encoding":{"x":{"field":"t","type":"quantitative","scale":{"domain":[1.53,5.45],"nice":false,"zero":false},"axis":{"values":[2,3,4,5],"title":"Retention time (min)"}},"y":{"field":"i","type":"quantitative","scale":{"domain":[0,1],"nice":false,"zero":false},"axis":{"title":"Intensity","labels":false,"ticks":false,"titleFont":"DejaVu Sans","titleFontSize":11.5,"titlePadding":5}}},
  "layer":[
  {"data":{"name":"chrom"},"transform":[{"flatten":["t","i"]},{"filter":"datum.p=='B1meG'&&datum.s=='CD₃'"}],"mark":{"type":"line","clip":true,"interpolate":"monotone","strokeWidth":1.6},"encoding":{"color":{"field":"s","type":"nominal","scale":{"domain":["CH₃","CD₃"],"range":["#d9262c","#2b3990"]},"legend":null}}},
  {"data":{"name":"chrom"},"transform":[{"flatten":["t","i"]},{"filter":"datum.p=='B1meG'&&datum.s=='CH₃'"}],"mark":{"type":"line","clip":true,"interpolate":"monotone","strokeWidth":2.4},"encoding":{"color":{"field":"s","type":"nominal","scale":{"domain":["CH₃","CD₃"],"range":["#d9262c","#2b3990"]},"legend":null}}},
  {"data":{"name":"ann"},"transform":[{"filter":"datum.p=='B1meG'&&datum.k=='pk'"}],"mark":{"type":"text","fontSize":13.5},"encoding":{"text":{"field":"l"}}},
  {"data":{"name":"ann"},"transform":[{"filter":"datum.p=='B1meG'&&datum.k=='sm'"}],"mark":{"type":"text","fontSize":10},"encoding":{"text":{"field":"l"}}}]}
]},
{"spacing":0,"bounds":"flush","resolve":{"scale":{"color":"independent"},"legend":{"color":"independent"}},"hconcat":[
 {"width":85,"height":234,"view":{"stroke":null},"data":{"values":[{"l":"+MMS"}]},"mark":{"type":"text","fontSize":17,"fontWeight":"bold","dx":-14.5,"dy":-24},"encoding":{"text":{"field":"l"}}},
 {"width":175,"height":169,
  "encoding":{"x":{"field":"t","type":"quantitative","scale":{"domain":[1.52,4.86],"nice":false,"zero":false},"axis":{"values":[2,3,4],"title":"Retention time (min)"}},"y":{"field":"i","type":"quantitative","scale":{"domain":[0,1],"nice":false,"zero":false},"axis":{"title":"Intensity","labels":false,"ticks":false,"titleFont":"DejaVu Sans","titleFontSize":11.5,"titlePadding":5}}},
  "layer":[
  {"data":{"name":"chrom"},"transform":[{"flatten":["t","i"]},{"filter":"datum.p=='B2meA'&&datum.s=='CD₃'"}],"mark":{"type":"line","clip":true,"interpolate":"monotone","strokeWidth":1.6},"encoding":{"color":{"field":"s","type":"nominal","scale":{"domain":["CH₃","CD₃"],"range":["#d9262c","#2b3990"]},"legend":null}}},
  {"data":{"name":"chrom"},"transform":[{"flatten":["t","i"]},{"filter":"datum.p=='B2meA'&&datum.s=='CH₃'"}],"mark":{"type":"line","clip":true,"interpolate":"monotone","strokeWidth":2.4},"encoding":{"color":{"field":"s","type":"nominal","scale":{"domain":["CH₃","CD₃"],"range":["#d9262c","#2b3990"]},"legend":null}}},
  {"data":{"name":"ann"},"transform":[{"filter":"datum.p=='B2meA'&&datum.k=='pk'"}],"mark":{"type":"text","fontSize":13.5},"encoding":{"text":{"field":"l"}}},
  {"data":{"name":"ann"},"transform":[{"filter":"datum.p=='B2meA'&&datum.k=='sm'"}],"mark":{"type":"text","fontSize":10},"encoding":{"text":{"field":"l"}}}]},
 {"width":48,"height":1,"view":{"stroke":null},"data":{"values":[]},"mark":"point"},
 {"width":176,"height":169,
  "encoding":{"x":{"field":"t","type":"quantitative","scale":{"domain":[1.39,3.68],"nice":false,"zero":false},"axis":{"values":[1.5,2,2.5,3,3.5],"tickCount":6,"format":".1f","title":"Retention time (min)"}},"y":{"field":"i","type":"quantitative","scale":{"domain":[0,1],"nice":false,"zero":false},"axis":{"title":"Intensity","labels":false,"ticks":false,"titleFont":"DejaVu Sans","titleFontSize":11.5,"titlePadding":5}}},
  "layer":[
  {"data":{"name":"chrom"},"transform":[{"flatten":["t","i"]},{"filter":"datum.p=='B2meC'&&datum.s=='CD₃'"}],"mark":{"type":"line","clip":true,"interpolate":"monotone","strokeWidth":1.6},"encoding":{"color":{"field":"s","type":"nominal","scale":{"domain":["CH₃","CD₃"],"range":["#d9262c","#2b3990"]},"legend":null}}},
  {"data":{"name":"chrom"},"transform":[{"flatten":["t","i"]},{"filter":"datum.p=='B2meC'&&datum.s=='CH₃'"}],"mark":{"type":"line","clip":true,"interpolate":"monotone","strokeWidth":2.4},"encoding":{"color":{"field":"s","type":"nominal","scale":{"domain":["CH₃","CD₃"],"range":["#d9262c","#2b3990"]},"legend":null}}},
  {"data":{"name":"ann"},"transform":[{"filter":"datum.p=='B2meC'&&datum.k=='pk'"}],"mark":{"type":"text","fontSize":13.5},"encoding":{"text":{"field":"l"}}},
  {"data":{"name":"ann"},"transform":[{"filter":"datum.p=='B2meC'&&datum.k=='sm'"}],"mark":{"type":"text","fontSize":10},"encoding":{"text":{"field":"l"}}}]},
 {"width":49,"height":1,"view":{"stroke":null},"data":{"values":[]},"mark":"point"},
 {"width":175,"height":169,
  "encoding":{"x":{"field":"t","type":"quantitative","scale":{"domain":[1.53,5.45],"nice":false,"zero":false},"axis":{"values":[2,3,4,5],"title":"Retention time (min)"}},"y":{"field":"i","type":"quantitative","scale":{"domain":[0,1],"nice":false,"zero":false},"axis":{"title":"Intensity","labels":false,"ticks":false,"titleFont":"DejaVu Sans","titleFontSize":11.5,"titlePadding":5}}},
  "layer":[
  {"data":{"name":"chrom"},"transform":[{"flatten":["t","i"]},{"filter":"datum.p=='B2meG'&&datum.s=='CD₃'"}],"mark":{"type":"line","clip":true,"interpolate":"monotone","strokeWidth":1.6},"encoding":{"color":{"field":"s","type":"nominal","scale":{"domain":["CH₃","CD₃"],"range":["#d9262c","#2b3990"]},"legend":null}}},
  {"data":{"name":"chrom"},"transform":[{"flatten":["t","i"]},{"filter":"datum.p=='B2meG'&&datum.s=='CH₃'"}],"mark":{"type":"line","clip":true,"interpolate":"monotone","strokeWidth":2.4},"encoding":{"color":{"field":"s","type":"nominal","scale":{"domain":["CH₃","CD₃"],"range":["#d9262c","#2b3990"]},"legend":null}}},
  {"data":{"name":"ann"},"transform":[{"filter":"datum.p=='B2meG'&&datum.k=='pk'"}],"mark":{"type":"text","fontSize":13.5},"encoding":{"text":{"field":"l"}}},
  {"data":{"name":"ann"},"transform":[{"filter":"datum.p=='B2meG'&&datum.k=='sm'"}],"mark":{"type":"text","fontSize":10},"encoding":{"text":{"field":"l"}}}]}
]},
{"spacing":0,"bounds":"flush","hconcat":[
 {"width":184,"height":63,"view":{"stroke":null},"data":{"values":[{"l":"C"}]},"mark":{"type":"text","font":"Liberation Sans","fontSize":31,"fontWeight":"bold","dx":40.5,"dy":-2.7},"encoding":{"text":{"field":"l"}}},
 {"width":158,"height":63,"view":{"stroke":null},"data":{"values":[{"l":"MMS adducts (1 mM, 1 h)"}]},"mark":{"type":"text","fontSize":16,"dy":22.5},"encoding":{"text":{"field":"l"}}},
 {"width":81,"height":63,"view":{"stroke":null},"data":{"values":[{"l":"E"}]},"mark":{"type":"text","font":"Liberation Sans","fontSize":31,"fontWeight":"bold","dx":12.5,"dy":-2.2},"encoding":{"text":{"field":"l"}}},
 {"width":188,"height":63,"view":{"stroke":null},"data":{"values":[{"l":"Endogenous modifications"}]},"mark":{"type":"text","fontSize":16,"dy":22.5},"encoding":{"text":{"field":"l"}}}
]},
{"spacing":0,"bounds":"flush","resolve":{"scale":{"color":"independent","xOffset":"independent"},"legend":{"color":"independent"}},"hconcat":[
 {"width":184,"height":231,"view":{"stroke":null},"data":{"values":[]},"mark":"point"},
 {"width":158,"height":199,
  "encoding":{"x":{"field":"c","type":"nominal","sort":null,"scale":{"domain":["m¹A","m³C","m⁶G","m⁷G"],"paddingInner":0.2,"paddingOuter":0.15},"axis":{"title":null}}},
  "layer":[
  {"data":{"name":"C"},"mark":{"type":"bar","stroke":"#333","strokeWidth":1},"encoding":{"xOffset":{"field":"g","type":"nominal","scale":{"domain":["mRNA","total RNA"]}},"y":{"field":"v","type":"quantitative","scale":{"domain":[0,4],"nice":false},"axis":{"title":"Modifications (per 10⁴ rNs)","values":[0,1,2,3,4],"tickCount":8,"format":"d","titlePadding":9,"labelOverlap":false}},"color":{"field":"g","type":"nominal","scale":{"domain":["mRNA","total RNA"],"range":["#d4d4d4","#5f5f5f"]},"legend":{"orient":"none","legendX":9,"legendY":5,"title":null,"symbolType":"M-1,-0.8H1V0.8H-1Z","symbolSize":100,"symbolStrokeColor":"#333","symbolStrokeWidth":1,"labelFont":"Liberation Sans","labelFontSize":10,"labelColor":"#333","labelOffset":7,"rowPadding":3}}}},
  {"data":{"name":"C"},"mark":{"type":"rule","color":"#111","strokeWidth":1},"encoding":{"xOffset":{"field":"g","type":"nominal"},"y":{"field":"lo","type":"quantitative"},"y2":{"field":"hi"}}},
  {"data":{"name":"C"},"mark":{"type":"tick","color":"#111","thickness":1,"size":6,"orient":"horizontal"},"encoding":{"xOffset":{"field":"g","type":"nominal"},"y":{"field":"lo","type":"quantitative"}}},
  {"data":{"name":"C"},"mark":{"type":"tick","color":"#111","thickness":1,"size":6,"orient":"horizontal"},"encoding":{"xOffset":{"field":"g","type":"nominal"},"y":{"field":"hi","type":"quantitative"}}},
  {"data":{"values":[{"c":"m⁶G","n":"*","y":0.26}]},"mark":{"type":"text","fontSize":16},"encoding":{"text":{"field":"n"},"y":{"field":"y","type":"quantitative"}}}]},
 {"width":81,"height":1,"view":{"stroke":null},"data":{"values":[]},"mark":"point"},
 {"width":188,"height":198,
  "encoding":{"x":{"field":"c","type":"nominal","sort":null,"scale":{"domain":["m¹A","m⁶A","m³C","m⁵C","m⁷G"],"paddingInner":0.22,"paddingOuter":0.15},"axis":{"title":null}}},
  "layer":[
  {"data":{"name":"E"},"mark":{"type":"bar","stroke":"#333","strokeWidth":1},"encoding":{"xOffset":{"field":"g","type":"nominal","scale":{"domain":["mRNA","total RNA"]}},"y":{"field":"v","type":"quantitative","scale":{"domain":[0,11],"nice":false},"axis":{"title":"Modifications (per 10⁴ rNs)","values":[0,2,4,6,8,10],"tickCount":8,"format":"d","titlePadding":1,"labelOverlap":false}},"color":{"field":"g","type":"nominal","scale":{"domain":["mRNA","total RNA"],"range":["#d4d4d4","#5f5f5f"]},"legend":{"orient":"none","legendX":94,"legendY":5,"title":null,"symbolType":"M-1,-0.8H1V0.8H-1Z","symbolSize":100,"symbolStrokeColor":"#333","symbolStrokeWidth":1,"labelFont":"Liberation Sans","labelFontSize":10,"labelColor":"#333","labelOffset":6,"rowPadding":3}}}},
  {"data":{"name":"E"},"mark":{"type":"rule","color":"#111","strokeWidth":1},"encoding":{"xOffset":{"field":"g","type":"nominal"},"y":{"field":"lo","type":"quantitative"},"y2":{"field":"hi"}}},
  {"data":{"name":"E"},"mark":{"type":"tick","color":"#111","thickness":1,"size":6,"orient":"horizontal"},"encoding":{"xOffset":{"field":"g","type":"nominal"},"y":{"field":"lo","type":"quantitative"}}},
  {"data":{"name":"E"},"mark":{"type":"tick","color":"#111","thickness":1,"size":6,"orient":"horizontal"},"encoding":{"xOffset":{"field":"g","type":"nominal"},"y":{"field":"hi","type":"quantitative"}}}]}
]},
{"spacing":0,"bounds":"flush","hconcat":[
 {"width":181,"height":63,"view":{"stroke":null},"data":{"values":[{"l":"D"}]},"mark":{"type":"text","font":"Liberation Sans","fontSize":31,"fontWeight":"bold","dx":42.5,"dy":-2.7},"encoding":{"text":{"field":"l"}}},
 {"width":165,"height":63,"view":{"stroke":null},"data":{"values":[{"l":"MMS adducts (% of total)"}]},"mark":{"type":"text","fontSize":16,"dy":22.5},"encoding":{"text":{"field":"l"}}},
 {"width":78,"height":63,"view":{"stroke":null},"data":{"values":[{"l":"F"}]},"mark":{"type":"text","font":"Liberation Sans","fontSize":31,"fontWeight":"bold","dx":9.5,"dy":-2.7},"encoding":{"text":{"field":"l"}}}
]},
{"spacing":0,"bounds":"flush","resolve":{"scale":{"color":"independent","xOffset":"independent"},"legend":{"color":"independent"}},"hconcat":[
 {"width":181,"height":212,"view":{"stroke":null},"data":{"values":[]},"mark":"point"},
 {"width":165,"height":199,
  "encoding":{"x":{"field":"c","type":"nominal","sort":null,"scale":{"domain":["m¹A","m³C","m⁶G","m⁷G"],"paddingInner":0.23,"paddingOuter":0.25},"axis":{"title":null}}},
  "layer":[
  {"data":{"name":"D"},"mark":{"type":"bar","stroke":"#333","strokeWidth":1},"encoding":{"xOffset":{"field":"g","type":"nominal","scale":{"domain":["mRNA","total RNA"]}},"y":{"field":"v","type":"quantitative","scale":{"domain":[0,100],"nice":false},"axis":{"title":"% of total MMS-induced adducts","values":[0,20,40,60,80,100],"tickCount":8,"format":"d","titlePadding":-3,"labelOverlap":false}},"color":{"field":"g","type":"nominal","scale":{"domain":["mRNA","total RNA"],"range":["#d4d4d4","#5f5f5f"]},"legend":{"orient":"none","legendX":10,"legendY":7,"title":null,"symbolType":"M-1,-0.8H1V0.8H-1Z","symbolSize":100,"symbolStrokeColor":"#333","symbolStrokeWidth":1,"labelFont":"Liberation Sans","labelFontSize":10,"labelColor":"#333","labelOffset":7,"rowPadding":3}}}},
  {"data":{"name":"D"},"mark":{"type":"rule","color":"#111","strokeWidth":1},"encoding":{"xOffset":{"field":"g","type":"nominal"},"y":{"field":"lo","type":"quantitative"},"y2":{"field":"hi"}}},
  {"data":{"name":"D"},"mark":{"type":"tick","color":"#111","thickness":1,"size":6,"orient":"horizontal"},"encoding":{"xOffset":{"field":"g","type":"nominal"},"y":{"field":"lo","type":"quantitative"}}},
  {"data":{"name":"D"},"mark":{"type":"tick","color":"#111","thickness":1,"size":6,"orient":"horizontal"},"encoding":{"xOffset":{"field":"g","type":"nominal"},"y":{"field":"hi","type":"quantitative"}}},
  {"data":{"values":[{"c":"m⁶G","n":"<1%","y":5.5}]},"mark":{"type":"text","fontSize":14},"encoding":{"text":{"field":"n"},"y":{"field":"y","type":"quantitative"}}}]},
 {"width":78,"height":1,"view":{"stroke":null},"data":{"values":[]},"mark":"point"},
 {"width":236,"height":199,
  "encoding":{"x":{"field":"c","type":"nominal","sort":null,"scale":{"domain":["m¹A","m⁶A","m³C","m⁵C","m⁶G","m⁷G"],"paddingInner":0.25,"paddingOuter":0.125},"axis":{"title":null}}},
  "layer":[
  {"data":{"name":"F"},"mark":{"type":"bar","stroke":"#222","strokeWidth":1},"encoding":{"xOffset":{"field":"g","type":"nominal","scale":{"domain":["mRNA","total RNA"]}},"y":{"field":"v","type":"quantitative","stack":"zero","scale":{"domain":[0,11.05],"nice":false},"axis":{"title":"Modifications (per 10⁴ rNs)","values":[0,2,4,6,8,10],"tickCount":8,"format":"d","titlePadding":1,"labelOverlap":false}},"color":{"field":"comp","type":"nominal","scale":{"domain":["mRNA endog.","total RNA endog.","mRNA MMS","total RNA MMS"],"range":["#6a8bd0","#233f97","#f2705f","#d7252b"]},"legend":{"orient":"none","legendX":113,"legendY":11,"title":null,"symbolType":"M-1,-0.7H1V0.7H-1Z","symbolSize":169,"symbolStrokeWidth":0,"labelFont":"Liberation Sans","labelFontSize":10,"labelColor":"#333","labelOffset":5,"rowPadding":2}},"order":{"field":"part","sort":"descending"}}},
  {"data":{"name":"Ferr"},"mark":{"type":"rule","color":"#111","strokeWidth":1},"encoding":{"xOffset":{"field":"g","type":"nominal"},"y":{"field":"lo","type":"quantitative"},"y2":{"field":"hi"}}},
  {"data":{"name":"Ferr"},"mark":{"type":"tick","color":"#111","thickness":1,"size":6,"orient":"horizontal"},"encoding":{"xOffset":{"field":"g","type":"nominal"},"y":{"field":"lo","type":"quantitative"}}},
  {"data":{"name":"Ferr"},"mark":{"type":"tick","color":"#111","thickness":1,"size":6,"orient":"horizontal"},"encoding":{"xOffset":{"field":"g","type":"nominal"},"y":{"field":"hi","type":"quantitative"}}},
  {"data":{"values":[{"c":"m⁶G","n":"*","y":0.4}]},"mark":{"type":"text","fontSize":16},"encoding":{"text":{"field":"n"},"y":{"field":"y","type":"quantitative"}}}]}
]}
],
"config": {
 "font": "Lato",
 "view": {"stroke": "#000", "strokeWidth": 2},
 "title": {"fontWeight": "normal", "color": "#000"},
 "axis": {"grid": false, "domain": false, "labelColor": "#000", "titleColor": "#000", "tickColor": "#000", "titleFontWeight": "normal", "labelFont": "Lato", "titleFont": "Lato"},
 "axisXQuantitative": {"tickSize": 3, "labelFont": "Liberation Sans", "labelFontSize": 7.5, "labelPadding": 1, "labelColor": "#333", "titleFontSize": 14, "titlePadding": 5},
 "axisYQuantitative": {"tickSize": 4, "labelFontSize": 13, "labelPadding": 2, "titleFontSize": 14},
 "axisXBand": {"ticks": false, "labelFontSize": 14, "labelPadding": 3, "labelAngle": 0},
 "legend": {"labelColor": "#000", "labelFont": "Lato"},
 "text": {"color": "#000", "font": "Lato"}
}
}
